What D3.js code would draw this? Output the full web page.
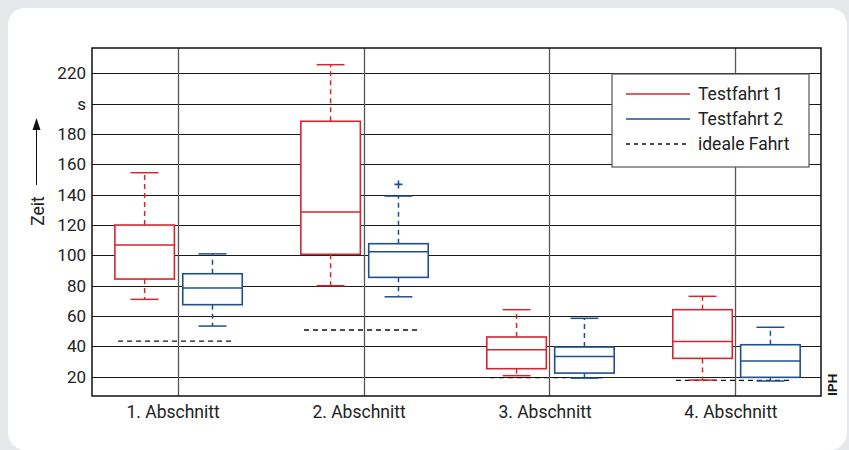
<!DOCTYPE html>
<html>
<head>
<meta charset="utf-8">
<script src="https://cdn.jsdelivr.net/npm/d3@7"></script>
<style>
  html, body { margin: 0; padding: 0; background: #e6e7e9; }
  svg { display: block; font-family: Roboto, "Noto Sans", sans-serif; }
</style>
</head>
<body>
<script>
(function (d3) {
  "use strict";

  /***** Daten *****/
  var categories = ["1. Abschnitt", "2. Abschnitt", "3. Abschnitt", "4. Abschnitt"];
  var seriesNames = ["Testfahrt 1", "Testfahrt 2"];
  // [unterer Whisker, Q1, Median, Q3, oberer Whisker]
  var testfahrt1 = [
    [71, 84.4, 106.8, 120, 154.5],
    [80, 100.7, 128.6, 188.4, 225.7],
    [20.7, 25.3, 37.8, 46.2, 64.2],
    [17.8, 32.1, 43.3, 64.2, 73]
  ];
  var testfahrt2 = [
    [53.4, 67.5, 78.5, 87.9, 101],
    [72.7, 85.5, 102.4, 107.7, 139.1],
    [19.1, 22.4, 33.4, 39.6, 58.5],
    [17.2, 19.6, 30.3, 41.1, 52.6]
  ];
  var outliers2 = [null, 146.8, null, null];
  var idealeFahrt = [43.5, 50.8, 19.4, 17.6];
  var yTicks = [20, 40, 60, 80, 100, 120, 140, 160, 180, 200, 220];
  var yTickLabels = ["20", "40", "60", "80", "100", "120", "140", "160", "180", "s", "220"];

  /***** Konfiguration *****/
  var width = 849, height = 450;
  var plot = { left: 92, right: 821, top: 48, bottom: 396 };
  var red = "#d5262f", blue = "#1f4f8e";
  var textColor = "#222";
  var series = [
    { name: seriesNames[0], data: testfahrt1, color: red, offset: -0.177 },
    { name: seriesNames[1], data: testfahrt2, color: blue, offset: 0.188 }
  ];
  var boxWidth = 0.32, capWidth = 0.15;

  var svg = d3.select("body").append("svg")
      .attr("width", width)
      .attr("height", height);

  svg.append("rect")
      .attr("x", 8).attr("y", 8)
      .attr("width", 839).attr("height", 442)
      .attr("rx", 17)
      .attr("fill", "#ffffff");

  /***** Skalen *****/
  var xScale = d3.scalePoint().domain(categories).range([plot.left, plot.right]).padding(0.46);
  var step = xScale.step();
  var yScale = d3.scaleLinear().domain([7.3, 236.7]).range([plot.bottom, plot.top]);

  /***** Gitter *****/
  var grid = svg.append("g");
  grid.selectAll(".hgrid").data(yTicks).enter().append("line")
      .attr("x1", plot.left).attr("x2", plot.right)
      .attr("y1", function (d) { return Math.round(yScale(d)) + 0.5; })
      .attr("y2", function (d) { return Math.round(yScale(d)) + 0.5; })
      .attr("stroke", "#1a1a1a").attr("stroke-width", 1);
  grid.selectAll(".vgrid").data(categories).enter().append("line")
      .attr("x1", function (d) { return Math.round(xScale(d)) + 0.5; })
      .attr("x2", function (d) { return Math.round(xScale(d)) + 0.5; })
      .attr("y1", plot.top).attr("y2", plot.bottom)
      .attr("stroke", "#555").attr("stroke-width", 1.3);

  /***** Achsen *****/
  var yAxis = d3.axisLeft(yScale).tickValues(yTicks).tickSize(0).tickPadding(6)
      .tickFormat(function (d, i) { return yTickLabels[i]; });
  var yAxisG = svg.append("g").attr("transform", "translate(" + plot.left + ",0)").call(yAxis);
  yAxisG.select(".domain").remove();
  yAxisG.selectAll("text").attr("font-size", 17).attr("fill", textColor)
      .attr("font-family", "Roboto, sans-serif");

  var xAxis = d3.axisBottom(xScale).tickSize(0).tickPadding(10);
  var xAxisG = svg.append("g").attr("transform", "translate(0," + plot.bottom + ")").call(xAxis);
  xAxisG.select(".domain").remove();
  xAxisG.selectAll("text").attr("font-size", 17.5).attr("fill", textColor)
      .attr("dx", -5).attr("font-family", "Roboto, sans-serif");

  // Rahmen
  svg.append("rect")
      .attr("x", plot.left).attr("y", plot.top)
      .attr("width", plot.right - plot.left).attr("height", plot.bottom - plot.top)
      .attr("fill", "none").attr("stroke", "#111").attr("stroke-width", 1.5);

  // Achsentitel mit Pfeil
  svg.append("text")
      .attr("transform", "translate(44,211) rotate(-90)")
      .attr("text-anchor", "middle")
      .attr("font-size", 17.5).attr("fill", textColor)
      .text("Zeit");
  svg.append("line")
      .attr("x1", 36.5).attr("x2", 36.5).attr("y1", 185).attr("y2", 128)
      .attr("stroke", "#111").attr("stroke-width", 1);
  svg.append("path")
      .attr("d", "M36.5,118 L32.5,130 L40.5,130 Z")
      .attr("fill", "#111");

  /***** Ideale Fahrt *****/
  svg.append("g").selectAll("line").data(idealeFahrt).enter().append("line")
      .attr("x1", function (d, i) { return xScale(categories[i]) - 0.32 * step; })
      .attr("x2", function (d, i) { return xScale(categories[i]) + 0.31 * step; })
      .attr("y1", function (d) { return yScale(d); })
      .attr("y2", function (d) { return yScale(d); })
      .attr("stroke", "#111").attr("stroke-width", 1.3)
      .attr("stroke-dasharray", "5,4");

  /***** Boxplots *****/
  series.forEach(function (s) {
    var g = svg.append("g");
    var cx = function (i) { return xScale(categories[i]) + s.offset * step; };
    var boxes = g.selectAll(".box").data(s.data).enter().append("g");

    // Whisker
    boxes.append("line")
        .attr("x1", function (d, i) { return cx(i); }).attr("x2", function (d, i) { return cx(i); })
        .attr("y1", function (d) { return yScale(d[3]); }).attr("y2", function (d) { return yScale(d[4]); })
        .attr("stroke", s.color).attr("stroke-width", 1.5).attr("stroke-dasharray", "5,4");
    boxes.append("line")
        .attr("x1", function (d, i) { return cx(i); }).attr("x2", function (d, i) { return cx(i); })
        .attr("y1", function (d) { return yScale(d[1]); }).attr("y2", function (d) { return yScale(d[0]); })
        .attr("stroke", s.color).attr("stroke-width", 1.5).attr("stroke-dasharray", "5,4");
    // Kappen
    [0, 4].forEach(function (k) {
      boxes.append("line")
          .attr("x1", function (d, i) { return cx(i) - capWidth * step / 2; })
          .attr("x2", function (d, i) { return cx(i) + capWidth * step / 2; })
          .attr("y1", function (d) { return yScale(d[k]); })
          .attr("y2", function (d) { return yScale(d[k]); })
          .attr("stroke", s.color).attr("stroke-width", 1.5);
    });
    // Box
    boxes.append("rect")
        .attr("x", function (d, i) { return cx(i) - boxWidth * step / 2; })
        .attr("width", boxWidth * step)
        .attr("y", function (d) { return yScale(d[3]); })
        .attr("height", function (d) { return yScale(d[1]) - yScale(d[3]); })
        .attr("fill", "#fff").attr("stroke", s.color).attr("stroke-width", 1.6);
    // Median
    boxes.append("line")
        .attr("x1", function (d, i) { return cx(i) - boxWidth * step / 2; })
        .attr("x2", function (d, i) { return cx(i) + boxWidth * step / 2; })
        .attr("y1", function (d) { return yScale(d[2]); })
        .attr("y2", function (d) { return yScale(d[2]); })
        .attr("stroke", s.color).attr("stroke-width", 1.5);

    if (s.name === "Testfahrt 2") {
      outliers2.forEach(function (v, i) {
        if (v === null) return;
        var x = cx(i), y = yScale(v);
        g.append("path")
            .attr("d", "M" + (x - 4) + "," + y + "H" + (x + 4) + "M" + x + "," + (y - 4) + "V" + (y + 4))
            .attr("stroke", s.color).attr("stroke-width", 1.6);
      });
    }
  });

  /***** Legende *****/
  var legend = svg.append("g").attr("transform", "translate(612,74)");
  legend.append("rect")
      .attr("x", 0).attr("y", 0).attr("width", 197).attr("height", 93)
      .attr("fill", "#fff").attr("stroke", "#555").attr("stroke-width", 1.2);
  var legendItems = [
    { label: seriesNames[0], color: red, dash: null },
    { label: seriesNames[1], color: blue, dash: null },
    { label: "ideale Fahrt", color: "#111", dash: "4,4" }
  ];
  legendItems.forEach(function (item, i) {
    var y = 20 + i * 25;
    legend.append("line")
        .attr("x1", 14).attr("x2", 78).attr("y1", y).attr("y2", y)
        .attr("stroke", item.color).attr("stroke-width", 1.4)
        .attr("stroke-dasharray", item.dash);
    legend.append("text")
        .attr("x", 86).attr("y", y).attr("dy", "0.35em")
        .attr("font-size", 17.5).attr("fill", textColor)
        .text(item.label);
  });

  // Quelle
  svg.append("text")
      .attr("transform", "translate(837,396) rotate(-90)")
      .attr("font-size", 13.5).attr("font-weight", "bold").attr("fill", "#1a1a1a")
      .text("IPH");

})(d3);
</script>
</body>
</html>
